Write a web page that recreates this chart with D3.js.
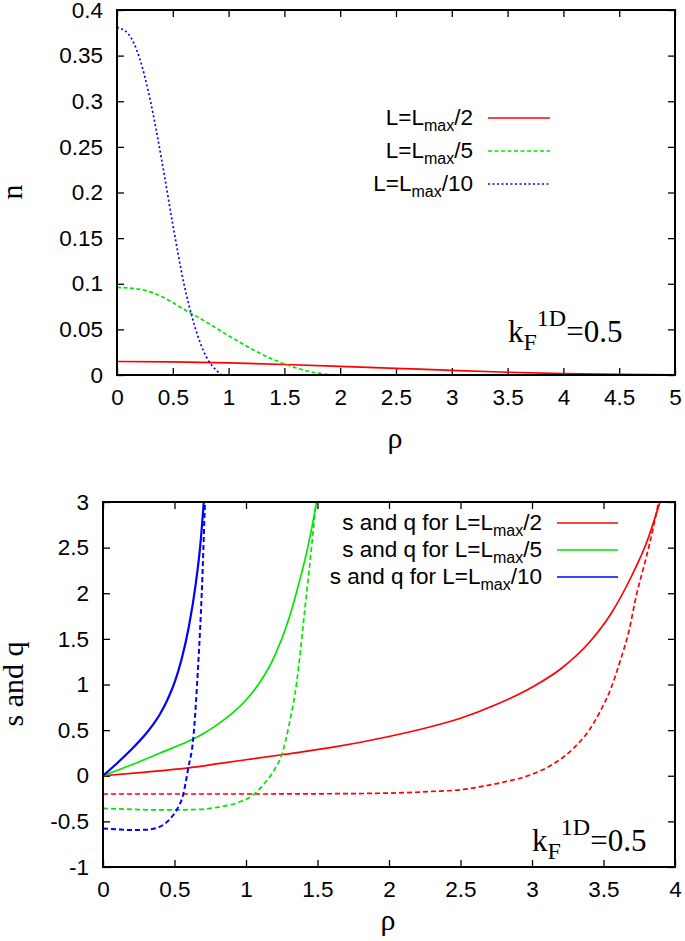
<!DOCTYPE html>
<html><head><meta charset="utf-8">
<script src="https://cdn.jsdelivr.net/npm/d3@7"></script>
<style>body{margin:0;background:#fff}svg{display:block}</style>
</head><body>
<svg id="c" width="685" height="941"></svg>
<script>
// ---------- top panel data: n(rho) ----------
const nRhoRed = [0,0.5,1,1.5,2,2.5,3,3.5,4,4.5,5];
const nRed    = [0.0148,0.0143,0.0132,0.0115,0.0095,0.0073,0.0050,0.0030,0.0015,0.0006,0.0002];
const nRhoGreen = [0,0.2,0.4,0.6,0.8,1.0,1.2,1.4,1.6,1.8,1.9,2.0];
const nGreen    = [0.096,0.094,0.086,0.072,0.058,0.043,0.029,0.017,0.008,0.002,0.0005,0];
const nRhoBlue = [0,0.1,0.2,0.3,0.4,0.5,0.6,0.7,0.8,0.9,0.94];
const nBlue    = [0.381,0.374,0.348,0.300,0.236,0.165,0.100,0.052,0.020,0.004,0];
const topXTicks = [0,0.5,1,1.5,2,2.5,3,3.5,4,4.5,5];
const topXLabels = ["0","0.5","1","1.5","2","2.5","3","3.5","4","4.5","5"];
const topYTicks = [0,0.05,0.1,0.15,0.2,0.25,0.3,0.35,0.4];
const topYLabels = ["0","0.05","0.1","0.15","0.2","0.25","0.3","0.35","0.4"];
const topLegend = ["2","5","10"];

// ---------- bottom panel data: s and q (rho) ----------
const sRhoRed = [0,0.3,0.61,0.82,1.25,1.6,2.0,2.25,2.5,2.75,3.0,3.2,3.4,3.55,3.7,3.8,3.895];
const sRed    = [0,0.04,0.09,0.136,0.23,0.31,0.43,0.52,0.63,0.78,0.97,1.17,1.46,1.77,2.2,2.55,3.0];
const qRhoRed = [0,0.5,1.0,1.5,2.0,2.3,2.52,2.64,2.8,2.99,3.15,3.29,3.4,3.475,3.55,3.615,3.68,3.73,3.78,3.825,3.885];
const qRed    = [-0.2,-0.2,-0.2,-0.198,-0.19,-0.172,-0.15,-0.12,-0.07,0.01,0.13,0.30,0.5,0.70,0.95,1.25,1.6,1.98,2.28,2.56,3.0];
const sRhoGreen = [0,0.2,0.4,0.6,0.7,0.8,0.9,1.0,1.1,1.2,1.3,1.355,1.436,1.494];
const sGreen    = [0,0.12,0.25,0.38,0.46,0.56,0.68,0.83,1.03,1.31,1.72,2.02,2.53,3.0];
const qRhoGreen = [0,0.2,0.4,0.6,0.75,0.82,0.95,1.05,1.12,1.2,1.25,1.3,1.355,1.41,1.46,1.49];
const qGreen    = [-0.357,-0.368,-0.375,-0.372,-0.358,-0.34,-0.29,-0.21,-0.1,0.07,0.23,0.55,1.03,1.8,2.53,3.0];
const sRhoBlue = [0,0.1,0.2,0.3,0.35,0.4,0.45,0.5,0.55,0.6,0.65,0.68,0.705];
const sBlue    = [0,0.14,0.29,0.46,0.56,0.68,0.83,1.02,1.28,1.63,2.12,2.52,3.0];
const qRhoBlue = [0,0.1,0.2,0.3,0.38,0.42,0.47,0.515,0.56,0.597,0.63,0.667,0.69,0.713];
const qBlue    = [-0.578,-0.588,-0.595,-0.592,-0.57,-0.54,-0.47,-0.375,-0.21,0.09,0.39,1.25,1.98,3.0];
const botXTicks = [0,0.5,1,1.5,2,2.5,3,3.5,4];
const botXLabels = ["0","0.5","1","1.5","2","2.5","3","3.5","4"];
const botYTicks = [-1,-0.5,0,0.5,1,1.5,2,2.5,3];
const botYLabels = ["-1","-0.5","0","0.5","1","1.5","2","2.5","3"];
const botLegend = ["2","5","10"];

const RED = "#ff0000", GREEN = "#00e600", BLUE = "#0000ff";
const SANS = "'Liberation Sans', Arial, Helvetica, sans-serif";
const SERIF = "'Liberation Serif', 'Times New Roman', serif";
const FS = 22.5;
const svg = d3.select("#c");

function zip(xs, ys){ return xs.map((x,i)=>[x, ys[i]]); }

function panel(cfg){
  const x = d3.scaleLinear().domain(cfg.xd).range([cfg.l, cfg.r]);
  const y = d3.scaleLinear().domain(cfg.yd).range([cfg.b, cfg.t]);
  const g = svg.append("g");
  const clipId = "clip" + cfg.id;
  g.append("clipPath").attr("id", clipId).append("rect")
    .attr("x", cfg.l).attr("y", cfg.t).attr("width", cfg.r-cfg.l).attr("height", cfg.b-cfg.t);

  const axB = d3.axisBottom(x).tickValues(cfg.xt).tickFormat((d,i)=>cfg.xl[i]).tickSize(-7).tickPadding(14);
  const axT = d3.axisTop(x).tickValues(cfg.xt).tickFormat("").tickSize(-7);
  const axL = d3.axisLeft(y).tickValues(cfg.yt).tickFormat((d,i)=>cfg.yl[i]).tickSize(-7).tickPadding(14);
  const axR = d3.axisRight(y).tickValues(cfg.yt).tickFormat("").tickSize(-7);
  const gb = g.append("g").attr("transform", `translate(0,${cfg.b})`).call(axB);
  const gt = g.append("g").attr("transform", `translate(0,${cfg.t})`).call(axT);
  const gl = g.append("g").attr("transform", `translate(${cfg.l},0)`).call(axL);
  const gr = g.append("g").attr("transform", `translate(${cfg.r},0)`).call(axR);
  [gb,gt,gl,gr].forEach(a=>{
    a.select(".domain").remove();
    a.selectAll("line").attr("stroke","#000").attr("stroke-width",1.3);
    a.selectAll("text").attr("font-family", SANS).attr("font-size", FS).attr("fill","#000");
  });

  const line = d3.line().x(d=>x(d[0])).y(d=>y(d[1])).curve(d3.curveMonotoneX);
  const cg = g.append("g").attr("clip-path", `url(#${clipId})`);
  cfg.series.forEach(s=>{
    cg.append("path").attr("d", line(zip(s.x, s.y))).attr("fill","none")
      .attr("stroke", s.c).attr("stroke-width", s.w || 1.7)
      .attr("stroke-dasharray", s.dash || null);
  });

  g.append("rect").attr("x", cfg.l).attr("y", cfg.t).attr("width", cfg.r-cfg.l).attr("height", cfg.b-cfg.t)
    .attr("fill","none").attr("stroke","#000").attr("stroke-width",2);

  // axis labels
  g.append("text").attr("x", (cfg.l+cfg.r)/2 - 1).attr("y", cfg.xlabY)
    .attr("text-anchor","middle").attr("font-family", SERIF).attr("font-size", 30).text("ρ");
  g.append("text").attr("transform", `translate(${cfg.ylabX},${cfg.ylabCY}) rotate(-90)`)
    .attr("text-anchor","middle").attr("font-family", SERIF).attr("font-size", 30).text(cfg.ylab);

  // kF annotation
  const k = g.append("text").attr("x", cfg.kx).attr("y", cfg.ky).attr("font-family", SERIF).attr("font-size", 31);
  k.append("tspan").text("k");
  k.append("tspan").attr("font-size", 24).attr("dy", 8).text("F");
  k.append("tspan").attr("font-size", 24).attr("dy", -24).text("1D");
  k.append("tspan").attr("dy", 16).text("=0.5");

  // legend
  cfg.legend.forEach((L,i)=>{
    const yy = cfg.legY[i];
    const t = g.append("text").attr("x", cfg.legTX).attr("y", yy + 7).attr("text-anchor","end")
      .attr("font-family", SANS).attr("font-size", FS);
    t.append("tspan").text(cfg.legPrefix + "L=L");
    t.append("tspan").attr("font-size", 16).attr("dy", 6).text("max");
    t.append("tspan").attr("dy", -6).text("/" + L.n);
    g.append("line").attr("x1", cfg.legX1).attr("x2", cfg.legX2).attr("y1", yy).attr("y2", yy)
      .attr("stroke", L.c).attr("stroke-width", L.w || 1.7).attr("stroke-dasharray", L.dash || null);
  });
}

panel({
  id: "top", l: 117, r: 675, t: 10, b: 375,
  xd: [0,5], yd: [0,0.4], xt: topXTicks, xl: topXLabels, yt: topYTicks, yl: topYLabels,
  series: [
    {x: nRhoRed, y: nRed, c: RED},
    {x: nRhoGreen, y: nGreen, c: GREEN, dash: "4,2.5"},
    {x: nRhoBlue, y: nBlue, c: BLUE, dash: "2,2.5"}
  ],
  xlabY: 448, ylab: "n", ylabX: 22, ylabCY: 192,
  kx: 508, ky: 342,
  legPrefix: "", legTX: 473, legX1: 488, legX2: 550, legY: [118,151,184],
  legend: [
    {n: topLegend[0], c: RED},
    {n: topLegend[1], c: GREEN, dash: "4,2.5"},
    {n: topLegend[2], c: BLUE, dash: "2,2.5"}
  ]
});

panel({
  id: "bot", l: 103, r: 675, t: 502, b: 867,
  xd: [0,4], yd: [-1,3], xt: botXTicks, xl: botXLabels, yt: botYTicks, yl: botYLabels,
  series: [
    {x: sRhoRed, y: sRed, c: RED},
    {x: qRhoRed, y: qRed, c: RED, dash: "5,3"},
    {x: sRhoGreen, y: sGreen, c: GREEN},
    {x: qRhoGreen, y: qGreen, c: GREEN, dash: "5,3"},
    {x: sRhoBlue, y: sBlue, c: BLUE, w: 2.2},
    {x: qRhoBlue, y: qBlue, c: BLUE, dash: "5,3", w: 2}
  ],
  xlabY: 930, ylab: "s and q", ylabX: 23, ylabCY: 684,
  kx: 532, ky: 851,
  legPrefix: "s and q for ", legTX: 542, legX1: 557, legX2: 618, legY: [523,550,577],
  legend: [
    {n: botLegend[0], c: RED},
    {n: botLegend[1], c: GREEN},
    {n: botLegend[2], c: BLUE}
  ]
});
</script>
</body></html>
